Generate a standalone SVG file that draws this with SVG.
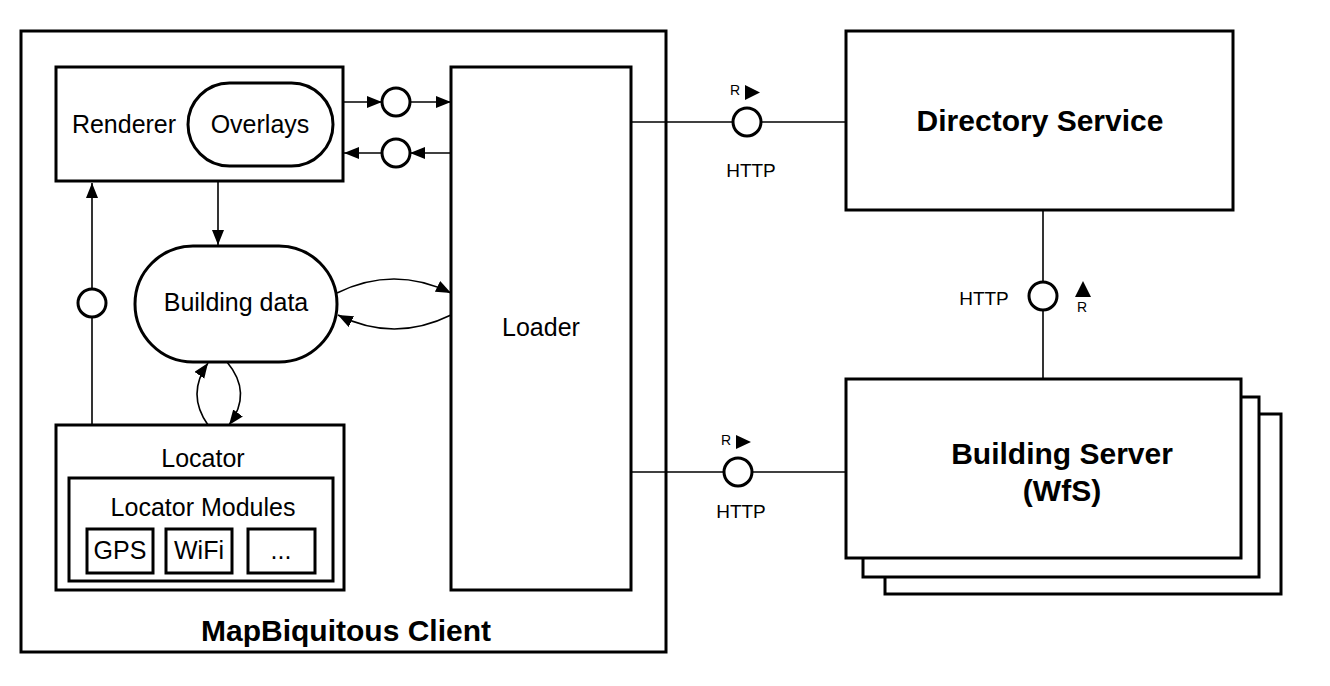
<svg xmlns="http://www.w3.org/2000/svg" width="1330" height="686" viewBox="0 0 1330 686">
<defs>
<marker id="arr" markerUnits="userSpaceOnUse" markerWidth="16" markerHeight="13" refX="15" refY="6" orient="auto">
<path d="M0,0 L15,6 L0,12 z" fill="#000"/>
</marker>
<style>
.box{fill:#fff;stroke:#000;stroke-width:3}
.ln{fill:none;stroke:#000;stroke-width:1.6}
.iface{fill:#fff;stroke:#000;stroke-width:3}
.t{font-family:"Liberation Sans",Arial,sans-serif;fill:#000;text-anchor:middle}
.b{font-weight:bold}
</style>
</defs>
<rect width="1330" height="686" fill="#fff"/>

<g id="client">
<rect class="box" x="21" y="31" width="645" height="621"/>
<text class="t b" x="346" y="641" font-size="30">MapBiquitous Client</text>
</g>

<g id="connectors">
<line class="ln" x1="343" y1="102" x2="382" y2="102" marker-end="url(#arr)"/>
<line class="ln" x1="410" y1="102" x2="451" y2="102" marker-end="url(#arr)"/>
<line class="ln" x1="451" y1="153" x2="410" y2="153" marker-end="url(#arr)"/>
<line class="ln" x1="382" y1="153" x2="344" y2="153" marker-end="url(#arr)"/>
<line class="ln" x1="218" y1="182" x2="218" y2="245" marker-end="url(#arr)"/>
<line class="ln" x1="92" y1="425" x2="92" y2="317"/>
<line class="ln" x1="92" y1="289" x2="92" y2="183" marker-end="url(#arr)"/>
<path class="ln" d="M337,293 Q394,265 451,293" marker-end="url(#arr)"/>
<path class="ln" d="M451,315 Q394,343 338,315" marker-end="url(#arr)"/>
<path class="ln" d="M208,425 Q186,394 208,363" marker-end="url(#arr)"/>
<path class="ln" d="M227,362 Q253,393 229,425" marker-end="url(#arr)"/>
<line class="ln" x1="631" y1="122" x2="846" y2="122"/>
<line class="ln" x1="631" y1="472" x2="846" y2="472"/>
<line class="ln" x1="1043" y1="210" x2="1043" y2="379"/>
<circle class="iface" cx="396" cy="102" r="14"/>
<circle class="iface" cx="396" cy="153" r="14"/>
<circle class="iface" cx="92" cy="303" r="14"/>
<circle class="iface" cx="747" cy="122" r="14"/>
<circle class="iface" cx="738" cy="472" r="14"/>
<circle class="iface" cx="1043" cy="296" r="14"/>
<text class="t" x="735" y="95" font-size="14">R</text>
<path d="M745,85 L760,92.5 L745,100 z" fill="#000"/>
<text class="t" x="751" y="177" font-size="19">HTTP</text>
<text class="t" x="726" y="445" font-size="14">R</text>
<path d="M736,435 L751,442 L736,449 z" fill="#000"/>
<text class="t" x="741" y="518" font-size="19">HTTP</text>
<text class="t" x="984" y="305" font-size="19">HTTP</text>
<path d="M1075,297 L1083,281 L1091,297 z" fill="#000"/>
<text class="t" x="1082" y="312" font-size="14">R</text>
</g>

<g id="renderer">
<rect class="box" x="56" y="67" width="287" height="114"/>
<text class="t" x="124" y="133" font-size="25">Renderer</text>
</g>
<g id="overlays">
<rect class="box" x="188" y="83" width="145" height="83" rx="41.5"/>
<text class="t" x="260" y="133" font-size="25">Overlays</text>
</g>
<g id="building-data">
<rect class="box" x="135" y="246" width="202" height="116" rx="58"/>
<text class="t" x="236" y="311" font-size="25">Building data</text>
</g>
<g id="locator">
<rect class="box" x="56" y="425" width="288" height="165"/>
<text class="t" x="203" y="467" font-size="25">Locator</text>
</g>
<g id="locator-modules">
<rect class="box" x="69" y="478" width="264" height="103"/>
<text class="t" x="203" y="516" font-size="25">Locator Modules</text>
</g>
<g id="gps">
<rect class="box" x="87" y="529" width="66" height="44"/>
<text class="t" x="120" y="559" font-size="25">GPS</text>
</g>
<g id="wifi">
<rect class="box" x="166" y="529" width="66" height="44"/>
<text class="t" x="199" y="559" font-size="25">WiFi</text>
</g>
<g id="more">
<rect class="box" x="248" y="529" width="67" height="44"/>
<text class="t" x="281" y="559" font-size="25">...</text>
</g>
<g id="loader">
<rect class="box" x="451" y="67" width="180" height="523"/>
<text class="t" x="541" y="336" font-size="25">Loader</text>
</g>
<g id="directory-service">
<rect class="box" x="846" y="31" width="387" height="179"/>
<text class="t b" x="1040" y="131" font-size="30">Directory Service</text>
</g>
<g id="building-server">
<rect class="box" x="885" y="414" width="396" height="180"/>
<rect class="box" x="863" y="397" width="396" height="180"/>
<rect class="box" x="846" y="379" width="395" height="179"/>
<text class="t b" x="1062" y="464" font-size="30">Building Server</text>
<text class="t b" x="1062" y="501" font-size="30">(WfS)</text>
</g>
</svg>
